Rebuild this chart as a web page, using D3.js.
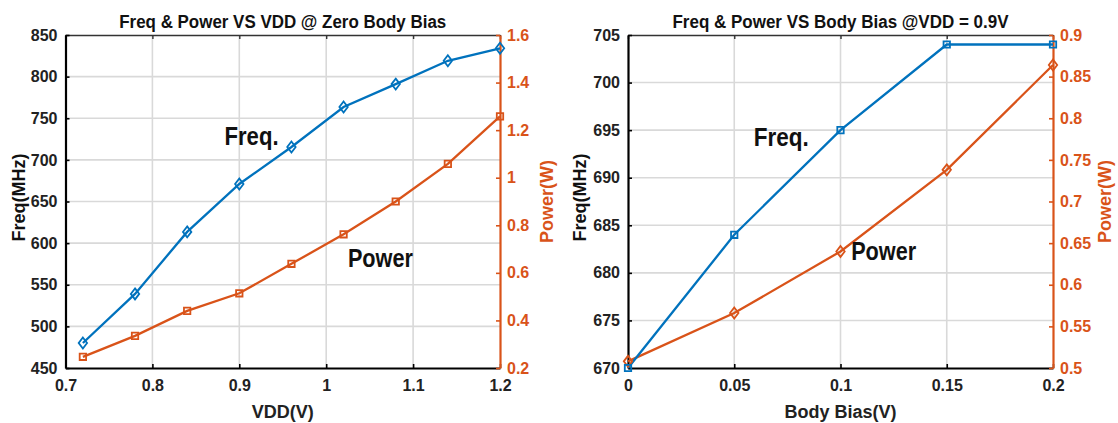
<!DOCTYPE html>
<html>
<head>
<meta charset="utf-8">
<script src="https://cdn.jsdelivr.net/npm/d3@7"></script>
<style>
	body { margin: 0; background: #fff; }
	text { font-family: "Liberation Sans", Arial, sans-serif; font-weight: bold; }
</style>
</head>
<body>
<svg id="chart" width="1118" height="423"></svg>
<script>
"use strict";

// Data

// left: sweep of VDD at zero body bias
const vdd = [0.72, 0.78, 0.84, 0.90, 0.96, 1.02, 1.08, 1.14, 1.20];
const freqVdd = [480, 539, 613.5, 671, 715.5, 763.5, 791, 819, 834];
const powerVdd = [0.247, 0.335, 0.44, 0.514, 0.638, 0.762, 0.9, 1.058, 1.258];
const vddTicks = [0.7, 0.8, 0.9, 1, 1.1, 1.2];
const freqVddTicks = [450, 500, 550, 600, 650, 700, 750, 800, 850];
const powerVddTicks = [0.2, 0.4, 0.6, 0.8, 1, 1.2, 1.4, 1.6];

// right: sweep of body bias at VDD = 0.9V
const bias = [0, 0.05, 0.1, 0.15, 0.2];
const freqBias = [670, 684, 695, 704, 704];
const powerBias = [0.508, 0.566, 0.64, 0.738, 0.864];
const biasTicks = [0, 0.05, 0.1, 0.15, 0.2];
const freqBiasTicks = [670, 675, 680, 685, 690, 695, 700, 705];
const powerBiasTicks = [0.5, 0.55, 0.6, 0.65, 0.7, 0.75, 0.8, 0.85, 0.9];

const blue = "#0072BD";
const orange = "#D95319";

var svg = d3.select("#chart");

drawPanel({
	left: 65.5, right: 500, top: 35, bottom: 368,
	title: "Freq & Power VS VDD @ Zero Body Bias", titleLen: 327,
	xLabel: "VDD(V)",
	x: vdd, freq: freqVdd, power: powerVdd,
	xTicks: vddTicks, fTicks: freqVddTicks, pTicks: powerVddTicks,
	freqMarker: "diamond", powerMarker: "square",
	fLabelX: 25, pLabelX: 553,
	freqNote: { x: 0.883, y: 718, len: 54 },
	powerNote: { x: 1.025, y: 571, len: 65 }
});

drawPanel({
	left: 628, right: 1053, top: 35, bottom: 368,
	title: "Freq & Power VS Body Bias @VDD = 0.9V", titleLen: 336,
	xLabel: "Body Bias(V)",
	x: bias, freq: freqBias, power: powerBias,
	xTicks: biasTicks, fTicks: freqBiasTicks, pTicks: powerBiasTicks,
	freqMarker: "square", powerMarker: "diamond",
	fLabelX: 586, pLabelX: 1111,
	freqNote: { x: 0.0592, y: 693.3, len: 55 },
	powerNote: { x: 0.105, y: 681.3, len: 65 }
});

function drawPanel(p) {
	var x = d3.scaleLinear()
		.domain(d3.extent(p.xTicks))
		.range([p.left, p.right]);
	var yF = d3.scaleLinear()
		.domain(d3.extent(p.fTicks))
		.range([p.bottom, p.top]);
	var yP = d3.scaleLinear()
		.domain(d3.extent(p.pTicks))
		.range([p.bottom, p.top]);

	var g = svg.append("g");

	// grid
	g.append("g")
		.selectAll("line.vgrid")
		.data(p.xTicks.slice(1, -1))
		.enter()
		.append("line")
		.attr("x1", d => x(d)).attr("x2", d => x(d))
		.attr("y1", p.top).attr("y2", p.bottom)
		.style("stroke", "#d9d9d9").style("stroke-width", 1.6);
	g.append("g")
		.selectAll("line.hgrid")
		.data(p.fTicks.slice(1, -1))
		.enter()
		.append("line")
		.attr("x1", p.left).attr("x2", p.right)
		.attr("y1", d => yF(d)).attr("y2", d => yF(d))
		.style("stroke", "#d9d9d9").style("stroke-width", 1.6);

	// top border with inward ticks
	var top = g.append("g")
		.attr("transform", "translate(0," + p.top + ")")
		.call(d3.axisTop(x).tickValues(p.xTicks).tickSize(-4).tickSizeOuter(0).tickFormat(""));
	top.selectAll("path,line").style("stroke", "#333").style("stroke-width", 1.4);

	// bottom axis
	var bot = g.append("g")
		.attr("transform", "translate(0," + p.bottom + ")")
		.call(d3.axisBottom(x).tickValues(p.xTicks).tickSize(-4).tickSizeOuter(0)
			.tickPadding(12).tickFormat(d => String(d)));
	bot.select(".domain").style("stroke", "#000").style("stroke-width", 2.2);
	bot.selectAll(".tick line").style("stroke", "#000").style("stroke-width", 1.6);
	bot.selectAll("text").style("font-size", "16px").style("fill", "#222").style("font-family", null);

	// left axis
	var la = g.append("g")
		.attr("transform", "translate(" + p.left + ",0)")
		.call(d3.axisLeft(yF).tickValues(p.fTicks).tickSize(-4).tickSizeOuter(0).tickPadding(8));
	la.select(".domain").style("stroke", "#000").style("stroke-width", 2.2);
	la.selectAll(".tick line").style("stroke", "#000").style("stroke-width", 1.6);
	la.selectAll("text").style("font-size", "16px").style("fill", "#222").style("font-family", null);

	// right axis
	var ra = g.append("g")
		.attr("transform", "translate(" + p.right + ",0)")
		.call(d3.axisRight(yP).tickValues(p.pTicks).tickSize(-4).tickSizeOuter(0)
			.tickPadding(7).tickFormat(d => String(d)));
	ra.select(".domain").style("stroke", orange).style("stroke-width", 2.2);
	ra.selectAll(".tick line").style("stroke", orange).style("stroke-width", 1.6);
	ra.selectAll("text").style("font-size", "16px").style("fill", orange).style("font-family", null);

	// lines
	var lineF = d3.line().x((d, i) => x(p.x[i])).y(d => yF(d));
	var lineP = d3.line().x((d, i) => x(p.x[i])).y(d => yP(d));

	g.append("path")
		.datum(p.power)
		.attr("d", lineP)
		.style("fill", "none").style("stroke", orange).style("stroke-width", 2.3);
	g.append("path")
		.datum(p.freq)
		.attr("d", lineF)
		.style("fill", "none").style("stroke", blue).style("stroke-width", 2.3);

	drawMarkers(g, p.power, (d, i) => x(p.x[i]), d => yP(d), p.powerMarker, orange);
	drawMarkers(g, p.freq, (d, i) => x(p.x[i]), d => yF(d), p.freqMarker, blue);

	// title
	g.append("text")
		.attr("x", (p.left + p.right) / 2)
		.attr("y", 28)
		.attr("text-anchor", "middle")
		.attr("textLength", p.titleLen)
		.attr("lengthAdjust", "spacingAndGlyphs")
		.style("font-size", "18px")
		.style("fill", "#111")
		.text(p.title);

	// axis labels
	g.append("text")
		.attr("x", (p.left + p.right) / 2)
		.attr("y", 418)
		.attr("text-anchor", "middle")
		.style("font-size", "18px")
		.style("fill", "#222")
		.text(p.xLabel);

	g.append("text")
		.attr("transform", "translate(" + p.fLabelX + "," + ((p.top + p.bottom) / 2 - 4) + ") rotate(-90)")
		.attr("text-anchor", "middle")
		.style("font-size", "18px")
		.style("fill", "#111")
		.text("Freq(MHz)");

	g.append("text")
		.attr("transform", "translate(" + p.pLabelX + "," + (p.top + p.bottom) / 2 + ") rotate(-90)")
		.attr("text-anchor", "middle")
		.style("font-size", "18px")
		.style("fill", orange)
		.text("Power(W)");

	// in-plot notes
	g.append("text")
		.attr("x", x(p.freqNote.x))
		.attr("y", yF(p.freqNote.y))
		.attr("textLength", p.freqNote.len)
		.attr("lengthAdjust", "spacingAndGlyphs")
		.style("font-size", "25px")
		.style("fill", "#111")
		.text("Freq.");

	g.append("text")
		.attr("x", x(p.powerNote.x))
		.attr("y", yF(p.powerNote.y))
		.attr("textLength", p.powerNote.len)
		.attr("lengthAdjust", "spacingAndGlyphs")
		.style("font-size", "25px")
		.style("fill", "#111")
		.text("Power");
}

function drawMarkers(g, values, fx, fy, shape, color) {
	var pts = g.append("g")
		.selectAll("path")
		.data(values)
		.enter()
		.append("path")
		.attr("transform", (d, i) => "translate(" + fx(d, i) + "," + fy(d) + ")")
		.style("fill", "none")
		.style("stroke", color)
		.style("stroke-width", 1.8);

	if (shape == "diamond") {
		pts.attr("d", "M0,-5.5L4.2,0L0,5.5L-4.2,0Z");
	} else {
		pts.attr("d", "M-3.2,-3.2H3.2V3.2H-3.2Z");
	}
}
</script>
</body>
</html>
